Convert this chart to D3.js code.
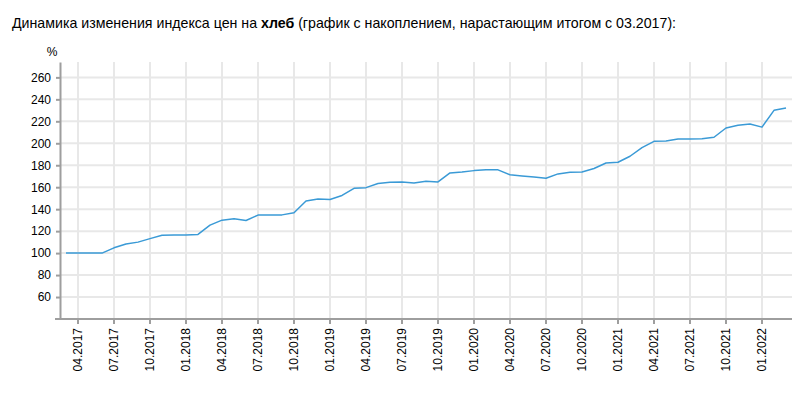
<!DOCTYPE html>
<html>
<head>
<meta charset="utf-8">
<script src="https://cdn.jsdelivr.net/npm/d3@7"></script>
<style>
  body { margin: 0; background: #fff; }
  svg { display: block; font-family: Arial, "Liberation Sans", sans-serif; }
</style>
</head>
<body>
<svg id="chart"></svg>
<script>
// months from 03.2017 to 03.2022
const months = [
  "03.2017","04.2017","05.2017","06.2017","07.2017","08.2017","09.2017","10.2017","11.2017","12.2017",
  "01.2018","02.2018","03.2018","04.2018","05.2018","06.2018","07.2018","08.2018","09.2018","10.2018","11.2018","12.2018",
  "01.2019","02.2019","03.2019","04.2019","05.2019","06.2019","07.2019","08.2019","09.2019","10.2019","11.2019","12.2019",
  "01.2020","02.2020","03.2020","04.2020","05.2020","06.2020","07.2020","08.2020","09.2020","10.2020","11.2020","12.2020",
  "01.2021","02.2021","03.2021","04.2021","05.2021","06.2021","07.2021","08.2021","09.2021","10.2021","11.2021","12.2021",
  "01.2022","02.2022","03.2022"
];

// cumulative price index, %
const values = [
  100, 100, 100, 100, 104.8, 108.3, 110, 113.2, 116.3, 116.5,
  116.5, 117, 125.5, 130, 131.2, 129.7, 134.6, 134.7, 134.8, 136.7, 147.5, 149.3,
  148.8, 152.5, 159, 159.6, 163.3, 164.5, 164.8, 163.9, 165.5, 164.8, 173, 173.9,
  175.1, 175.8, 175.8, 171.3, 170.3, 169.4, 168.2, 172.1, 173.6, 173.9, 177, 182,
  182.7, 188.2, 196.1, 201.8, 202.1, 203.9, 203.9, 204.2, 205.5, 213.9, 216.4, 217.5,
  214.7, 230, 232.1
];

const xTicks = [
  "04.2017","07.2017","10.2017","01.2018","04.2018","07.2018","10.2018",
  "01.2019","04.2019","07.2019","10.2019","01.2020","04.2020","07.2020",
  "10.2020","01.2021","04.2021","07.2021","10.2021","01.2022"
];
const yTicks = [60, 80, 100, 120, 140, 160, 180, 200, 220, 240, 260];

drawChart();

function drawChart() {
  const svgWidth = 811;
  const svgHeight = 394;
  const left = 60, right = 792, top = 62, bottom = 319;

  const svg = d3.select("#chart")
    .attr("width", svgWidth)
    .attr("height", svgHeight);

  // title
  const title = svg.append("text")
    .attr("x", 12)
    .attr("y", 28)
    .attr("font-size", "14.2px")
    .attr("fill", "#000");
  title.append("tspan").text("Динамика изменения индекса цен на ");
  title.append("tspan").attr("font-weight", "bold").text("хлеб");
  title.append("tspan").text(" (график с накоплением, нарастающим итогом с 03.2017):");

  const x = d3.scaleBand()
    .domain(months)
    .range([left, right]);
  const xc = m => x(m) + x.bandwidth() / 2;

  const y = d3.scaleLinear()
    .domain([40, 274])
    .range([bottom, top]);

  // grid
  svg.append("g")
    .selectAll("line")
    .data(yTicks)
    .enter()
    .append("line")
    .attr("x1", left).attr("x2", right)
    .attr("y1", d => y(d)).attr("y2", d => y(d))
    .attr("stroke", "#e8e8e8")
    .attr("stroke-width", 2);

  svg.append("g")
    .selectAll("line")
    .data(xTicks)
    .enter()
    .append("line")
    .attr("x1", d => xc(d)).attr("x2", d => xc(d))
    .attr("y1", top).attr("y2", bottom)
    .attr("stroke", "#e8e8e8")
    .attr("stroke-width", 2);

  // y axis
  const yAxis = d3.axisLeft(y)
    .tickValues(yTicks)
    .tickSize(4)
    .tickSizeOuter(0)
    .tickPadding(5);

  const gy = svg.append("g")
    .attr("transform", `translate(${left}, 0)`)
    .call(yAxis);
  gy.select(".domain").attr("stroke", "#9e9e9e").attr("stroke-width", 2);
  gy.selectAll(".tick line").attr("stroke", "#9e9e9e").attr("stroke-width", 2);
  gy.selectAll("text").attr("font-size", "12px").attr("fill", "#000")
    .attr("font-family", "Arial, 'Liberation Sans', sans-serif");

  svg.append("text")
    .attr("x", 52)
    .attr("y", 56)
    .attr("text-anchor", "middle")
    .attr("font-size", "12px")
    .attr("fill", "#000")
    .text("%");

  // x axis
  const xAxis = d3.axisBottom(x)
    .tickValues(xTicks)
    .tickSize(5)
    .tickSizeOuter(0);

  const gx = svg.append("g")
    .attr("transform", `translate(0, ${bottom})`)
    .call(xAxis);
  gx.select(".domain").remove();
  gx.selectAll(".tick line").attr("stroke", "#9e9e9e").attr("stroke-width", 2);
  gx.selectAll("text")
    .attr("font-size", "12px")
    .attr("fill", "#000")
    .attr("font-family", "Arial, 'Liberation Sans', sans-serif")
    .attr("transform", "rotate(-90)")
    .attr("text-anchor", "end")
    .attr("x", -9)
    .attr("y", 0)
    .attr("dy", "0.35em");

  svg.append("line")
    .attr("x1", left - 5).attr("x2", right)
    .attr("y1", bottom).attr("y2", bottom)
    .attr("stroke", "#9e9e9e")
    .attr("stroke-width", 2);

  // line
  const line = d3.line()
    .x((d, i) => xc(months[i]))
    .y(d => y(d));

  svg.append("path")
    .datum(values)
    .attr("d", line)
    .attr("fill", "none")
    .attr("stroke", "#3a9ad6")
    .attr("stroke-width", 1.5)
    .attr("stroke-linejoin", "round");
}
</script>
</body>
</html>
